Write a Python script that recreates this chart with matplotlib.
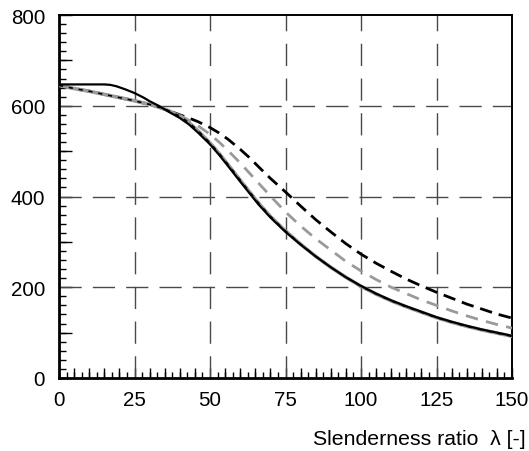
import matplotlib
matplotlib.use("Agg")
import matplotlib.pyplot as plt
import numpy as np
from matplotlib.ticker import MultipleLocator, NullFormatter

plt.rcParams['font.family'] = ['Liberation Sans', 'DejaVu Sans']

# Data (slenderness ratio vs stress)
lam_bs = [0, 5, 10, 15, 17, 19, 22, 25, 28, 30, 33, 36, 40, 43, 46, 50, 53, 56, 60, 63, 66, 70, 75,
          80, 85, 90, 95, 100, 105, 110, 115, 120, 125, 130, 135, 140, 145, 150]
solid_black = [647, 647, 647, 647, 646, 643, 636, 628, 618, 610, 600, 588, 573, 559, 541, 515, 492, 467,
               433, 408, 383, 354, 322, 294, 268, 244, 222, 203, 186, 171, 158, 146, 134, 124, 115, 107, 100, 93]

lam_g = [0, 5, 10, 15, 20, 25, 28, 30, 33, 36, 40, 43, 46, 50, 53, 56, 60, 63, 66, 70, 75,
         80, 85, 90, 95, 100, 105, 110, 115, 120, 125, 130, 135, 140, 145, 150]
gray_solid = [645, 638, 632, 625, 618, 611, 606, 603, 597, 590, 577, 563, 545, 518, 495, 470, 436, 411,
              386, 356, 324, 295, 268, 244, 222, 202, 185, 170, 157, 145, 133, 123, 114, 106, 99, 92]
gray_dashed = [645, 638, 632, 625, 618, 611, 606, 603, 597, 590, 579, 568, 556, 537, 520, 501, 474, 452,
               430, 401, 366, 335, 307, 282, 257, 236, 217, 200, 186, 172, 160, 148, 137, 127, 118, 110]
black_dashed = [645, 638, 632, 625, 618, 611, 606, 603, 597, 590, 580, 573, 565, 552, 540, 526, 504, 486,
                466, 440, 410, 379, 349, 322, 296, 273, 253, 235, 218, 203, 189, 176, 163, 152, 141, 132]

xticks = [0, 25, 50, 75, 100, 125, 150]
yticks = [0, 200, 400, 600, 800]

fig = plt.figure(figsize=(5.29, 4.52), dpi=100)
ax = fig.add_axes([59/529, 1-379/452, (512-59)/529, (379-16)/452])

gridc = '#4a4a4a'
for xv in xticks[1:-1]:
    ax.axvline(xv, color=gridc, lw=1.0, ls=(0, (16, 9)), zorder=1)
for yv in yticks[1:-1]:
    ax.axhline(yv, color=gridc, lw=1.0, ls=(0, (16, 8)), zorder=1)

ax.plot(lam_g, black_dashed, color='black', lw=2.0, ls=(0, (4.5, 2.5)), zorder=3)
ax.plot(lam_g, gray_dashed, color='#9a9a9a', lw=2.0, ls=(0, (4.5, 3)), zorder=3)
ax.plot(lam_g, gray_solid, color='#9a9a9a', lw=2.6, zorder=4)
ax.plot(lam_g, gray_solid, color='black', lw=1.2, ls=(0, (2.5, 3.5)), zorder=5)
ax.plot(lam_bs, solid_black, color='black', lw=1.6, zorder=6)

ax.set_xlim(0, 150)
ax.set_ylim(0, 800)
ax.set_xticks(xticks)
ax.set_yticks(yticks)
ax.xaxis.set_minor_locator(MultipleLocator(2.5))
ax.yaxis.set_minor_locator(MultipleLocator(20))
ax.tick_params(which='major', direction='in', length=0, labelsize=14.8)
ax.tick_params(axis='x', which='major', pad=9)
ax.tick_params(axis='y', which='major', pad=10)
ax.tick_params(which='minor', direction='in', length=4, width=1, color='black')
ax.tick_params(axis='y', which='minor', length=5)

# medium ticks
secx = ax.secondary_xaxis('bottom')
secx.set_xticks(np.arange(0, 151, 5))
secx.xaxis.set_major_formatter(NullFormatter())
secx.tick_params(direction='in', length=7, width=1)
secx.spines['bottom'].set_visible(False)
secy = ax.secondary_yaxis('left')
secy.set_yticks(np.arange(0, 801, 100))
secy.yaxis.set_major_formatter(NullFormatter())
secy.tick_params(direction='in', length=9, width=1)
secy.spines['left'].set_visible(False)

for s in ['left', 'bottom']:
    ax.spines[s].set_linewidth(2.0)
for s in ['top', 'right']:
    ax.spines[s].set_linewidth(1.4)

fig.text(526/529, 1-440/452, 'Slenderness ratio  λ [-]', ha='right', va='center', fontsize=15.3)

fig.savefig('out.png', dpi=100)
